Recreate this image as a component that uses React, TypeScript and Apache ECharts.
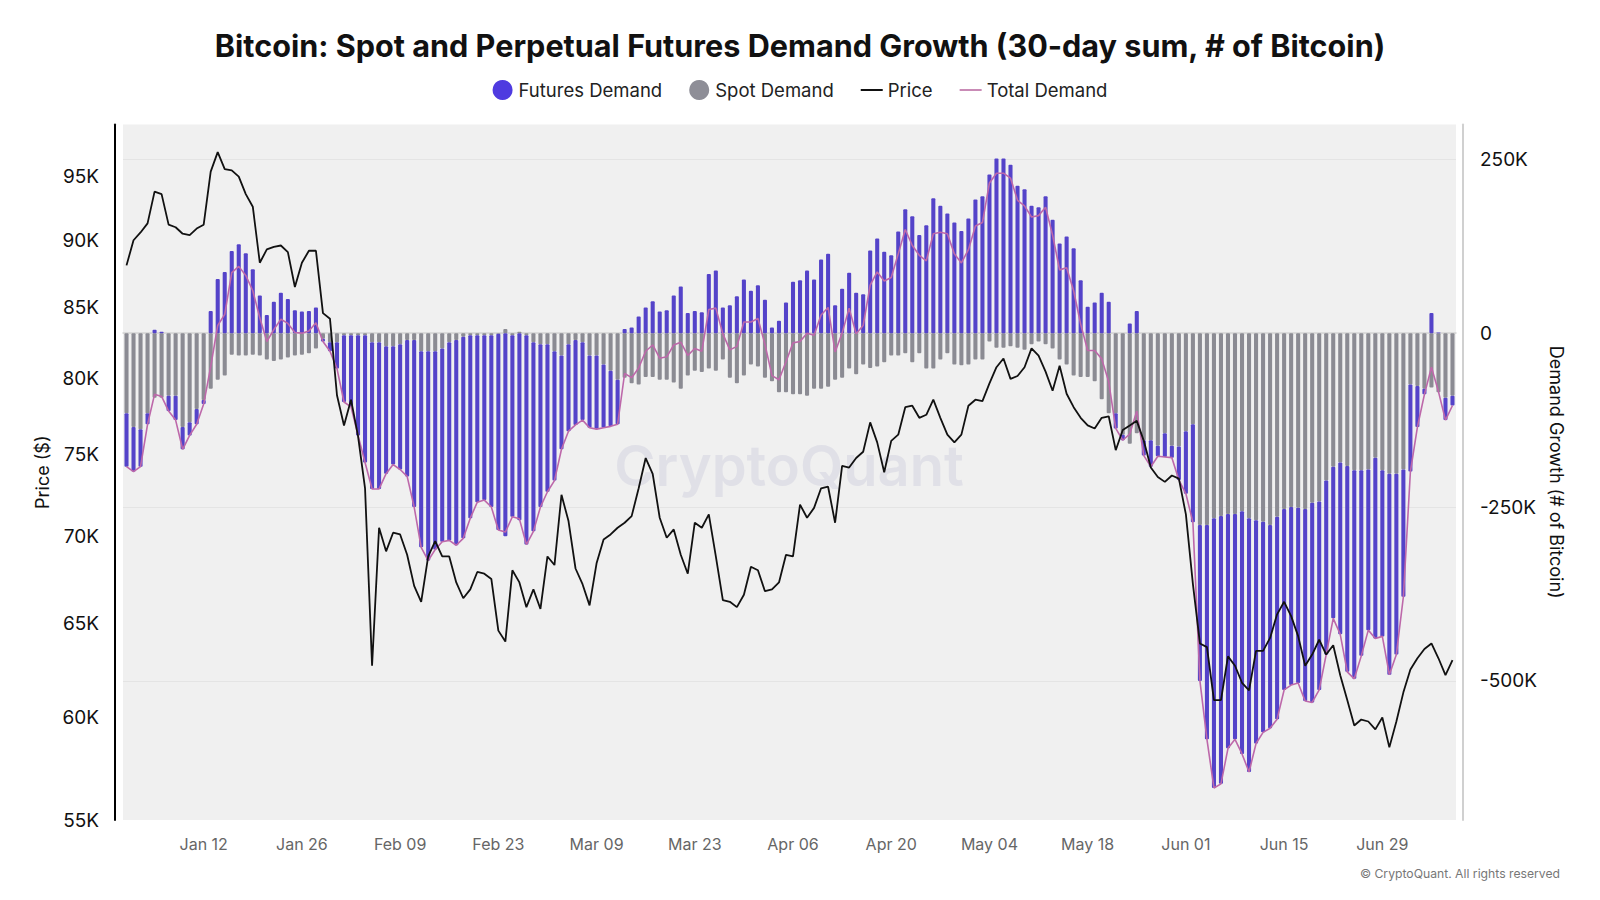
import React, { useEffect, useRef } from 'react';
import * as echarts from 'echarts';

const FONT = 'Inter, "Noto Sans", "DejaVu Sans", sans-serif';

// Daily categories start here (2025-01-01), one per data point
const START_YEAR = 2025;
const START_MONTH = 0;
const START_DAY = 1;
const MONTHS = ['Jan', 'Feb', 'Mar', 'Apr', 'May', 'Jun', 'Jul', 'Aug', 'Sep', 'Oct', 'Nov', 'Dec'];

const X_TICK_LABELS = ['Jan 12', 'Jan 26', 'Feb 09', 'Feb 23', 'Mar 09', 'Mar 23', 'Apr 06', 'Apr 20', 'May 04', 'May 18', 'Jun 01', 'Jun 15', 'Jun 29'];
const PRICE_TICKS_K = [55, 60, 65, 70, 75, 80, 85, 90, 95];
const DEMAND_TICKS_K = [-500, -250, 0, 250];

// Price ($K)
const priceK = [
  88.1, 90.0, 90.6, 91.3, 93.8, 93.6, 91.2, 91.0, 90.5, 90.4,
  90.9, 91.2, 95.4, 97.0, 95.6, 95.5, 95.0, 93.6, 92.6, 88.3,
  89.3, 89.5, 89.6, 89.1, 86.5, 88.3, 89.2, 89.2, 84.6, 84.2,
  78.9, 76.9, 78.6, 76.2, 72.9, 62.7, 70.5, 69.1, 70.2, 70.1,
  68.9, 67.1, 66.2, 68.8, 69.7, 68.8, 68.8, 67.3, 66.4, 66.9,
  67.9, 67.8, 67.5, 64.6, 64.0, 68.0, 67.3, 65.9, 66.9, 65.8,
  68.8, 68.3, 72.5, 70.9, 68.1, 67.2, 66.0, 68.4, 69.8, 70.1,
  70.5, 70.8, 71.2, 72.9, 74.8, 73.8, 71.1, 69.9, 70.4, 68.9,
  67.8, 70.8, 70.5, 71.3, 68.8, 66.3, 66.2, 65.9, 66.6, 68.2,
  68.0, 66.8, 66.9, 67.3, 68.9, 68.8, 71.9, 71.1, 71.7, 72.9,
  73.0, 70.8, 74.3, 74.2, 74.8, 75.2, 77.1, 75.8, 73.9, 75.9,
  76.3, 78.1, 78.2, 77.4, 77.6, 78.6, 77.4, 76.3, 75.8, 76.3,
  78.2, 78.6, 78.5, 79.7, 80.8, 81.4, 80.0, 80.2, 80.8, 82.1,
  81.6, 80.5, 79.2, 80.9, 79.0, 78.1, 77.4, 76.9, 76.7, 77.4,
  77.5, 75.3, 76.6, 76.9, 77.2, 75.9, 74.2, 73.6, 73.3, 73.7,
  73.5, 71.3, 67.2, 63.9, 63.7, 60.9, 60.9, 63.2, 62.7, 61.8,
  61.4, 63.5, 63.5, 64.2, 65.5, 66.2, 65.4, 64.3, 62.7, 63.3,
  64.1, 63.3, 63.8, 62.2, 60.9, 59.6, 59.9, 59.8, 59.4, 60.0,
  58.5, 59.8, 61.3, 62.5, 63.1, 63.6, 63.9, 63.1, 62.2, 63.0,
];

// Spot demand growth (thousand BTC)
const spotK = [
  -115, -135, -138, -115, -93, -93, -90, -90, -135, -128,
  -109, -96, -80, -67, -61, -31, -32, -32, -31, -32,
  -38, -40, -38, -35, -32, -31, -29, -22, -8, -13,
  -13, -3, -3, -3, -3, -13, -13, -19, -19, -16,
  -10, -10, -26, -26, -26, -22, -13, -10, -5, -3,
  -3, -3, -3, -1, 6, -3, 2, -3, -13, -16,
  -16, -26, -32, -16, -10, -13, -32, -32, -45, -54,
  -67, -64, -72, -74, -63, -63, -67, -67, -71, -80,
  -61, -54, -56, -51, -54, -38, -64, -72, -61, -45,
  -48, -64, -69, -85, -85, -88, -88, -90, -80, -80,
  -77, -67, -64, -51, -59, -45, -50, -48, -42, -32,
  -32, -29, -42, -29, -51, -51, -38, -29, -45, -46,
  -45, -38, -38, -12, -21, -21, -19, -21, -24, -16,
  -12, -16, -22, -38, -45, -61, -63, -63, -69, -95,
  -115, -115, -146, -159, -144, -154, -154, -162, -144, -162,
  -163, -141, -131, -276, -276, -266, -263, -260, -260, -256,
  -266, -269, -271, -276, -264, -253, -250, -251, -253, -244,
  -242, -212, -192, -186, -191, -197, -197, -196, -179, -197,
  -202, -202, -196, -74, -76, -80, -78, -85, -93, -90,
];

// Perpetual futures demand growth (thousand BTC)
const futuresK = [
  -77, -64, -54, -16, 5, 2, -22, -35, -32, -19,
  -22, -6, 32, 78, 88, 118, 128, 115, 92, 54,
  26, 45, 58, 49, 33, 31, 32, 37, -4, -13,
  -38, -96, -103, -144, -183, -211, -211, -183, -170, -180,
  -196, -240, -282, -301, -285, -278, -285, -295, -290, -263,
  -240, -237, -247, -282, -292, -261, -269, -301, -272, -234,
  -212, -186, -135, -125, -122, -112, -104, -106, -91, -80,
  -64, 6, 8, 24, 37, 46, 31, 33, 54, 67,
  29, 32, 30, 85, 90, 37, 40, 53, 77, 61,
  69, 48, 8, 18, 44, 74, 76, 90, 77, 106,
  114, 40, 64, 87, 58, 56, 119, 136, 117, 112,
  146, 178, 168, 141, 155, 194, 183, 172, 159, 147,
  165, 192, 197, 228, 251, 251, 242, 212, 207, 183,
  181, 197, 163, 129, 139, 122, 76, 38, 44, 58,
  45, -22, -8, 14, 32, -22, -38, -15, -34, -17,
  -48, -90, -141, -224, -308, -388, -385, -337, -324, -349,
  -365, -321, -303, -292, -291, -260, -256, -252, -276, -287,
  -271, -250, -218, -247, -296, -300, -267, -231, -260, -239,
  -289, -260, -183, -125, -59, -8, 29, 1, -32, -14,
];

const COLORS = {
  futures: '#5443c9',
  futuresLegend: '#4f3be0',
  spot: '#8b8b93',
  spotLegend: '#8e8e97',
  price: '#111111',
  total: '#bd68aa',
  totalLegend: '#c98bb6',
};

const LINE_ICON = 'path://M0,0H22V2H0Z';

function buildDates(n: number): string[] {
  const out: string[] = [];
  for (let i = 0; i < n; i++) {
    const d = new Date(Date.UTC(START_YEAR, START_MONTH, START_DAY + i));
    out.push(`${MONTHS[d.getUTCMonth()]} ${String(d.getUTCDate()).padStart(2, '0')}`);
  }
  return out;
}

export default function App() {
  const ref = useRef<HTMLDivElement>(null);

  useEffect(() => {
    document.body.style.margin = '0';
    if (!ref.current) return;
    const chart = echarts.init(ref.current, undefined, { renderer: 'svg' });

    const dates = buildDates(priceK.length);
    const totalK = futuresK.map((f, i) => f + spotK[i]);
    const showTick = (_idx: number, value: string) => X_TICK_LABELS.indexOf(value) >= 0;

    chart.setOption({
      animation: false,
      backgroundColor: '#ffffff',
      textStyle: { fontFamily: FONT },
      title: {
        text: 'Bitcoin: Spot and Perpetual Futures Demand Growth (30-day sum, # of Bitcoin)',
        left: 'center',
        top: 25,
        textStyle: { fontFamily: FONT, fontSize: 30.6, fontWeight: 700, color: '#111111' },
      },
      legend: {
        top: 75,
        left: 'center',
        itemWidth: 22,
        itemHeight: 20,
        itemGap: 27,
        textStyle: { fontFamily: FONT, fontSize: 18.5, color: '#222222' },
        data: [
          { name: 'Futures Demand', icon: 'circle', itemStyle: { color: COLORS.futuresLegend } },
          { name: 'Spot Demand', icon: 'circle', itemStyle: { color: COLORS.spotLegend } },
          { name: 'Price', icon: LINE_ICON, itemStyle: { color: COLORS.price } },
          { name: 'Total Demand', icon: LINE_ICON, itemStyle: { color: COLORS.totalLegend } },
        ],
      },
      grid: {
        left: 123,
        right: 144,
        top: 124.5,
        bottom: 80,
        show: true,
        backgroundColor: '#f0f0f0',
        borderWidth: 0,
        containLabel: false,
      },
      xAxis: {
        type: 'category',
        data: dates,
        boundaryGap: true,
        axisLine: { show: true, lineStyle: { color: '#d4d4d4', width: 1.5 } },
        axisTick: { show: true, alignWithLabel: true, interval: showTick, length: 8, lineStyle: { color: '#cccccc' } },
        axisLabel: { interval: showTick, fontFamily: FONT, fontSize: 16, color: '#666666', margin: 16 },
        splitLine: { show: false },
      },
      yAxis: [
        {
          type: 'log',
          logBase: 10,
          min: 55,
          max: 99.3,
          position: 'left',
          offset: 8,
          axisLine: { show: true, lineStyle: { color: '#000000', width: 2 } },
          axisTick: { show: false, customValues: PRICE_TICKS_K },
          axisLabel: {
            customValues: PRICE_TICKS_K,
            formatter: (v: number) => `${Math.round(v)}K`,
            fontFamily: FONT,
            fontSize: 19,
            color: '#111111',
            margin: 16,
          },
          splitLine: { show: false },
          name: 'Price ($)',
          nameLocation: 'middle',
          nameGap: 52,
          nameTextStyle: { fontFamily: FONT, fontSize: 18, color: '#111111' },
        },
        {
          type: 'value',
          min: -700,
          max: 300,
          position: 'right',
          offset: 7,
          axisLine: { show: true, lineStyle: { color: '#d0d0d0', width: 2 } },
          axisTick: { show: false, customValues: DEMAND_TICKS_K },
          axisLabel: {
            customValues: DEMAND_TICKS_K,
            formatter: (v: number) => (v === 0 ? '0' : `${v}K`),
            fontFamily: FONT,
            fontSize: 19,
            color: '#111111',
            margin: 17,
          },
          splitLine: { show: true, lineStyle: { color: '#e4e4e4', width: 1 } },
          name: 'Demand Growth (# of Bitcoin)',
          nameLocation: 'middle',
          nameRotate: -90,
          nameGap: 72,
          nameTextStyle: { fontFamily: FONT, fontSize: 18, color: '#111111' },
        },
      ],
      graphic: [
        {
          type: 'text',
          z: 1,
          silent: true,
          x: 789,
          y: 466,
          style: {
            text: 'CryptoQuant',
            fontFamily: FONT,
            fontSize: 56,
            fontWeight: 600,
            fill: '#e0e0e7',
            align: 'center',
            verticalAlign: 'middle',
          },
        },
        {
          type: 'text',
          silent: true,
          x: 1560,
          y: 873,
          style: {
            text: '© CryptoQuant. All rights reserved',
            fontFamily: FONT,
            fontSize: 12.2,
            fill: '#777777',
            align: 'right',
            verticalAlign: 'middle',
          },
        },
      ],
      series: [
        {
          name: 'Spot Demand',
          type: 'bar',
          stack: 'demand',
          yAxisIndex: 1,
          barWidth: '58%',
          data: spotK,
          itemStyle: { color: COLORS.spot, borderRadius: 1 },
        },
        {
          name: 'Futures Demand',
          type: 'bar',
          stack: 'demand',
          yAxisIndex: 1,
          barWidth: '58%',
          data: futuresK,
          itemStyle: { color: COLORS.futures, borderRadius: 1 },
        },
        {
          name: 'Total Demand',
          type: 'line',
          yAxisIndex: 1,
          data: totalK,
          symbol: 'none',
          showSymbol: false,
          z: 3,
          itemStyle: { color: COLORS.total },
          lineStyle: { color: COLORS.total, width: 1.6 },
        },
        {
          name: 'Price',
          type: 'line',
          yAxisIndex: 0,
          data: priceK,
          symbol: 'none',
          showSymbol: false,
          z: 4,
          itemStyle: { color: COLORS.price },
          lineStyle: { color: COLORS.price, width: 1.8 },
        },
      ],
    });

    return () => chart.dispose();
  }, []);

  return (
    <div
      ref={ref}
      style={{ position: 'fixed', left: 0, top: 0, width: '1600px', height: '900px', background: '#ffffff' }}
    />
  );
}
